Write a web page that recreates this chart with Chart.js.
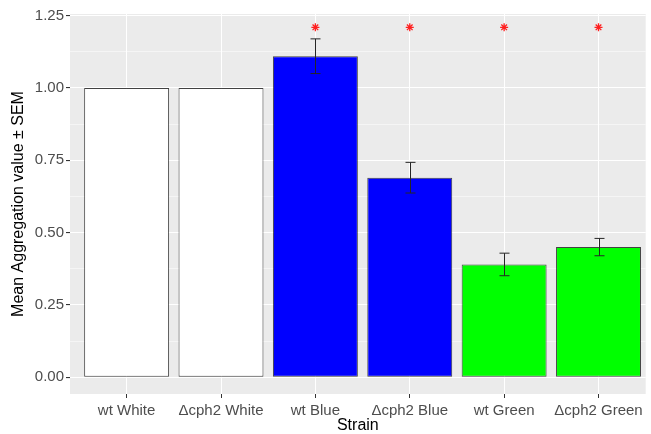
<!DOCTYPE html>
<html>
<head>
<meta charset="utf-8">
<script src="https://cdn.jsdelivr.net/npm/chart.js@4/dist/chart.umd.min.js"></script>
<style>
  html, body { margin: 0; padding: 0; background: #fff; overflow: hidden; }
</style>
</head>
<body>
<canvas id="c" width="651" height="434"></canvas>
<script>
const strains = ["wt White", "\u0394cph2 White", "wt Blue", "\u0394cph2 Blue", "wt Green", "\u0394cph2 Green"];
const meanValues = [1.00, 1.00, 1.11, 0.69, 0.39, 0.45];
const semValues = [0, 0, 0.06, 0.053, 0.039, 0.03];
const barColors = ["#FFFFFF", "#FFFFFF", "#0000FF", "#0000FF", "#00FF00", "#00FF00"];
const significant = [false, false, true, true, true, true];
const starLevel = 1.21;
const yTicks = [0, 0.25, 0.5, 0.75, 1, 1.25];
const yMinor = [0.125, 0.375, 0.625, 0.875, 1.125];

// grey ggplot panel
const panelBg = {
    id: "panelBg",
    beforeDraw(chart) {
        const {ctx, chartArea: a} = chart;
        ctx.save();
        ctx.fillStyle = "#EBEBEB";
        ctx.fillRect(a.left, a.top, a.right - a.left, a.bottom - a.top);
        ctx.restore();
    },
};

// error bars, mean +- SEM
const errorBars = {
    id: "errorBars",
    afterDatasetsDraw(chart) {
        const {ctx, scales: {x, y}} = chart;
        ctx.save();
        ctx.strokeStyle = "#262626";
        ctx.lineWidth = 1;
        meanValues.forEach((m, i) => {
            const s = semValues[i];
            if (!s) return;
            const px = Math.round(x.getPixelForValue(i)) + 0.5;
            const yTop = y.getPixelForValue(m + s);
            const yBot = y.getPixelForValue(m - s);
            ctx.beginPath();
            ctx.moveTo(px, yTop);
            ctx.lineTo(px, yBot);
            ctx.moveTo(px - 5, yTop);
            ctx.lineTo(px + 5, yTop);
            ctx.moveTo(px - 5, yBot);
            ctx.lineTo(px + 5, yBot);
            ctx.stroke();
        });
        ctx.restore();
    },
};

const isMajor = (v) => yTicks.some((t) => Math.abs(t - v) < 1e-6);

new Chart(document.getElementById("c"), {
    type: "bar",
    data: {
        datasets: [
            {
                type: "bar",
                data: meanValues.map((v, i) => ({x: i, y: v})),
                backgroundColor: barColors,
                borderColor: "rgba(0,0,0,0.72)",
                borderWidth: 1,
                borderSkipped: false,
                barPercentage: 0.9,
                categoryPercentage: 1.0,
                order: 2,
            },
            {
                type: "scatter",
                data: significant.map((s, i) => s ? {x: i, y: starLevel} : null).filter(Boolean),
                pointStyle: "star",
                radius: 4,
                borderColor: "#FF2020",
                borderWidth: 1.3,
                order: 1,
            },
        ],
    },
    options: {
        responsive: false,
        animation: false,
        layout: {padding: {top: 14, right: 0, left: 0, bottom: 0}},
        plugins: {legend: {display: false}, tooltip: {enabled: false}},
        scales: {
            x: {
                type: "linear",
                min: -0.6,
                max: 5.5,
                offset: false,
                afterBuildTicks: (scale) => {
                    scale.ticks = strains.map((_, i) => ({value: i}));
                },
                afterFit: (scale) => {
                    scale.height = 40;
                    scale.paddingLeft = 0;
                    scale.paddingRight = 0;
                },
                ticks: {
                    callback: (v) => strains[v],
                    color: "#4D4D4D",
                    font: {family: "Liberation Sans, Arial, sans-serif", size: 15},
                    padding: 4,
                    maxRotation: 0,
                    autoSkip: false,
                },
                grid: {
                    offset: false,
                    color: "#FFFFFF",
                    lineWidth: 1,
                    tickLength: 4,
                    tickColor: "#333333",
                },
                border: {display: false},
                title: {
                    display: true,
                    text: "Strain",
                    color: "#000000",
                    font: {family: "Liberation Sans, Arial, sans-serif", size: 16, lineHeight: 1},
                    padding: 0,
                },
            },
            y: {
                min: -0.058,
                max: 1.256,
                afterBuildTicks: (scale) => {
                    scale.ticks = yTicks.concat(yMinor).sort((a, b) => a - b).map((v) => ({value: v}));
                },
                afterFit: (scale) => { scale.width = 70; },
                ticks: {
                    callback: (v) => isMajor(v) ? v.toFixed(2) : "",
                    color: "#4D4D4D",
                    font: {family: "Liberation Sans, Arial, sans-serif", size: 15},
                    padding: 2,
                    autoSkip: false,
                },
                grid: {
                    color: "#FFFFFF",
                    lineWidth: (c) => isMajor(c.tick.value) ? 1.1 : 0.5,
                    tickLength: 4,
                    tickColor: (c) => isMajor(c.tick.value) ? "#333333" : "rgba(0,0,0,0)",
                },
                border: {display: false},
                title: {
                    display: true,
                    text: "Mean Aggregation value \u00B1 SEM",
                    color: "#000000",
                    font: {family: "Liberation Sans, Arial, sans-serif", size: 16},
                    padding: 9,
                },
            },
        },
    },
    plugins: [panelBg, errorBars],
});
</script>
</body>
</html>
